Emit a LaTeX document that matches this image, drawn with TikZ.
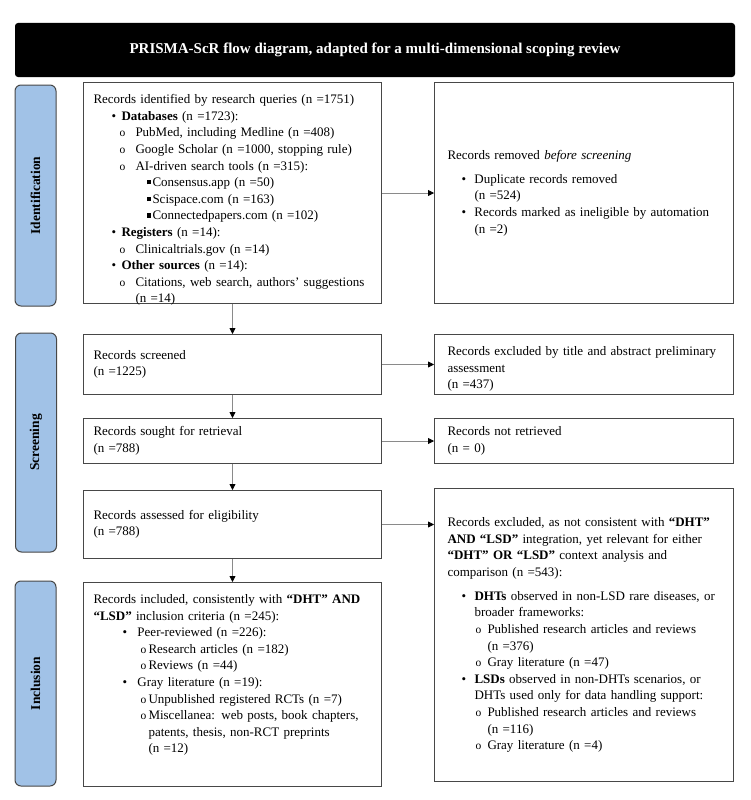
\documentclass[tikz,border=0pt]{standalone}
\usepackage{fontspec}
\setmainfont{Liberation Serif}
\usetikzlibrary{positioning,arrows.meta}

\definecolor{phaseblue}{HTML}{A1C2E7}
\definecolor{framegray}{HTML}{474747}
\definecolor{linegray}{HTML}{8A8A8A}

\newcommand{\boxfont}{\fontsize{13}{16.6}\selectfont}
% list entry: bullet position, text position, bullet, text
\newcommand{\bitem}[4]{{\leftskip=#2\relax\noindent\llap{\makebox[\dimexpr#2-#1\relax][l]{#3}}#4\par}}
\newcommand{\subo}{{\fontsize{11.5}{11.5}\selectfont o}}
\newcommand{\sqb}{\rule[2.2pt]{4.2pt}{4.2pt}}

\tikzset{
  lbox/.style={draw=framegray, line width=1pt, inner xsep=10pt, inner ysep=0pt,
    text width=278pt, align=left, font=\boxfont},
  rbox/.style={lbox, inner xsep=13pt, text width=273pt},
  phase/.style={draw=framegray, fill=phaseblue, rounded corners=6pt, line width=1pt,
    rotate=90, minimum height=41pt, font=\bfseries\fontsize{13.5}{15}\selectfont},
  arr/.style={draw=linegray, line width=0.8pt, -{Triangle[length=6pt,width=6pt,color=black]}},
}

\begin{document}
\begin{tikzpicture}[x=1pt, y=-1pt]
  \useasboundingbox (0,0) rectangle (751,800);

  \node[fill=black, rounded corners=3pt, minimum width=720pt, minimum height=54pt,
    text=white, font=\bfseries\fontsize{15}{17}\selectfont] (title) at (375,50)
    {PRISMA-ScR flow diagram, adapted for a multi-dimensional scoping review};

  % phases
  \node[phase, minimum width=221pt] (idphase) at (35.5,195.5) {Identification};
  \node[phase, minimum width=219pt] (scrphase) at (36,442.5) {Screening};
  \node[phase, minimum width=205pt] (incphase) at (35.5,683.5) {Inclusion};

  % identification
  \node[lbox, minimum height=221pt, anchor=north west] (ident) at (83,82) {};
  \begin{scope}
    \clip (ident.south west) rectangle (ident.north east);
    \node[lbox, draw=none, anchor=north west] (identtxt) at ([yshift=-12pt]ident.north west)
      {Records identified by research queries (n =1751)\par
       \bitem{18pt}{28pt}{\textbullet}{\textbf{Databases} (n =1723):}
       \bitem{26pt}{42pt}{\subo}{PubMed, including Medline (n =408)}
       \bitem{26pt}{42pt}{\subo}{Google Scholar (n =1000, stopping rule)}
       \bitem{26pt}{42pt}{\subo}{AI-driven search tools (n =315):}
       \bitem{53pt}{59pt}{\sqb}{Consensus.app (n =50)}
       \bitem{53pt}{59pt}{\sqb}{Scispace.com (n =163)}
       \bitem{53pt}{59pt}{\sqb}{Connectedpapers.com (n =102)}
       \bitem{18pt}{28pt}{\textbullet}{\textbf{Registers} (n =14):}
       \bitem{26pt}{42pt}{\subo}{Clinicaltrials.gov (n =14)}
       \bitem{18pt}{28pt}{\textbullet}{\textbf{Other sources} (n =14):}
       \bitem{26pt}{42pt}{\subo}{Citations, web search, authors' suggestions\\(n =14)}};
  \end{scope}
  \node[rbox, minimum height=221pt, right=52pt of ident] (removed)
    {Records removed \emph{before screening}\par\vspace{7.5pt}
     \bitem{14pt}{27pt}{\textbullet}{Duplicate records removed\\(n =524)}
     \bitem{14pt}{27pt}{\textbullet}{Records marked as ineligible by automation\\(n =2)}};

  % screening
  \node[lbox, minimum height=60pt, below=30pt of ident] (screened)
    {Records screened\\(n =1225)};
  \node[rbox, minimum height=60pt, right=52pt of screened] (excl1) {};
  \begin{scope}
    \clip (excl1.south west) rectangle (excl1.north east);
    \node[rbox, draw=none, anchor=north west] (excl1txt) at ([yshift=-12pt]excl1.north west)
      {Records excluded by title and abstract preliminary\\assessment\\(n =437)};
  \end{scope}
  \node[lbox, minimum height=45pt, below=23pt of screened] (sought)
    {Records sought for retrieval\\(n =788)};
  \node[rbox, minimum height=45pt, right=52pt of sought] (notretr)
    {Records not retrieved\\(n = 0)};
  \node[lbox, minimum height=68pt, below=26pt of sought] (assessed)
    {Records assessed for eligibility\\(n =788)};
  \node[rbox, minimum height=293pt, right=52pt of assessed.north east, anchor=north west,
    yshift=2pt] (excl2)
    {Records excluded, as not consistent with \textbf{“DHT”}\\
     \textbf{AND “LSD”} integration, yet relevant for either\\
     \textbf{“DHT” OR “LSD”} context analysis and\\
     comparison (n =543):\par\vspace{7.5pt}
     \bitem{14pt}{27pt}{\textbullet}{\textbf{DHTs} observed in non-LSD rare diseases, or\\broader frameworks:}
     \bitem{28pt}{40pt}{\subo}{Published research articles and reviews\\(n =376)}
     \bitem{28pt}{40pt}{\subo}{Gray literature (n =47)}
     \bitem{14pt}{27pt}{\textbullet}{\textbf{LSDs} observed in non-DHTs scenarios, or\\DHTs used only for data handling support:}
     \bitem{28pt}{40pt}{\subo}{Published research articles and reviews\\(n =116)}
     \bitem{28pt}{40pt}{\subo}{Gray literature (n =4)}};

  % inclusion
  \node[lbox, minimum height=204pt, below=23pt of assessed] (included)
    {Records included, consistently with \textbf{“DHT” AND}\\
     \textbf{“LSD”} inclusion criteria (n =245):\par
     \bitem{29pt}{44pt}{\textbullet}{Peer-reviewed (n =226):}
     \bitem{47pt}{55pt}{\subo}{Research articles (n =182)}
     \bitem{47pt}{55pt}{\subo}{Reviews (n =44)}
     \bitem{29pt}{44pt}{\textbullet}{Gray literature (n =19):}
     \bitem{47pt}{55pt}{\subo}{Unpublished registered RCTs (n =7)}
     \bitem{47pt}{55pt}{\subo}{Miscellanea: web posts, book chapters,\\patents, thesis, non-RCT preprints\\(n =12)}
     \vspace{19pt}\hrule height 0pt width 0pt};

  \draw[arr] (ident) -- (removed);
  \draw[arr] (ident) -- (screened);
  \draw[arr] (screened) -- (excl1);
  \draw[arr] (screened) -- (sought);
  \draw[arr] (sought) -- (notretr);
  \draw[arr] (sought) -- (assessed);
  \draw[arr] (assessed.east) -- (assessed.east -| excl2.west);
  \draw[arr] (assessed) -- (included);
\end{tikzpicture}
\end{document}
